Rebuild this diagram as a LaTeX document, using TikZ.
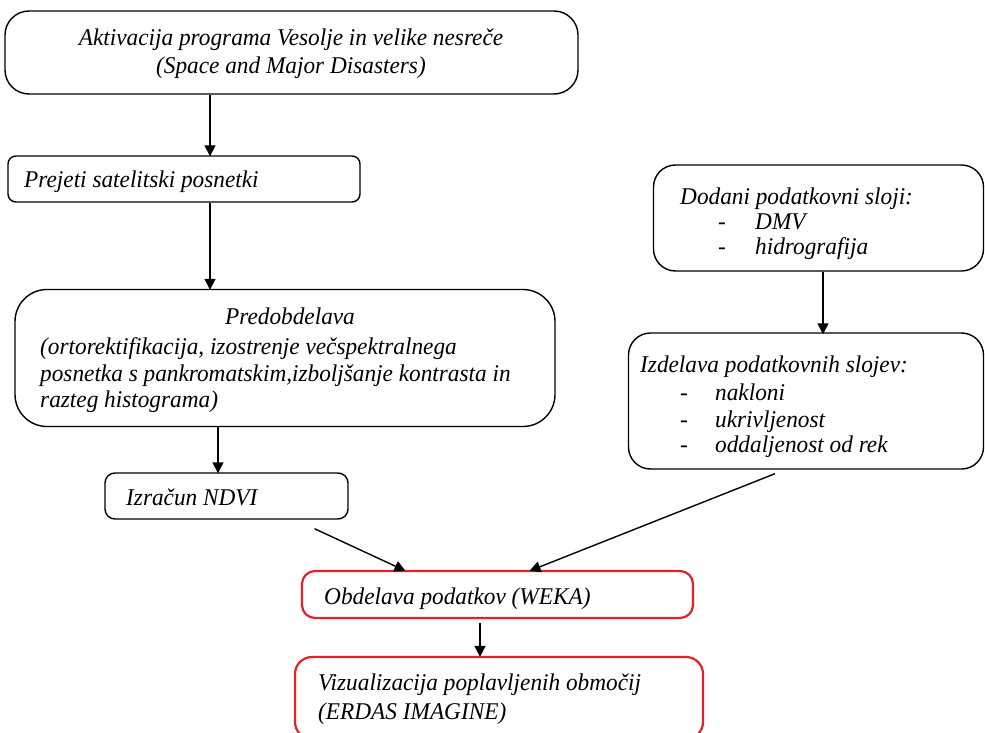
\documentclass[tikz,border=0pt]{standalone}
\usepackage{fontspec}
\setmainfont{Liberation Serif}[FakeStretch=0.97]
\usetikzlibrary{arrows.meta,calc}
\definecolor{boxred}{RGB}{228,32,40}
\tikzset{
  box/.style={draw=black, line width=1.4pt, inner sep=0pt},
  redbox/.style={draw=boxred, line width=2.2pt, inner sep=0pt},
  txt/.style={inner sep=0pt, font=\fontsize{24}{28}\selectfont\itshape},
  arr/.style={line width=1.4pt, -{Triangle[length=11pt,width=11pt]}},
}
\begin{document}
\begin{tikzpicture}[x=1pt,y=-1pt]
\useasboundingbox (0,0) rectangle (985,733);
\clip (0,0) rectangle (985,733);
% boxes
\node[box, rounded corners=24pt, minimum width=573pt, minimum height=83pt] (top) at (291.5,52.5) {};
\node[box, rounded corners=8pt, minimum width=352pt, minimum height=46pt] (sat) at (184,179) {};
\node[box, rounded corners=32pt, minimum width=540pt, minimum height=137pt] (pre) at (285,358) {};
\node[box, rounded corners=10pt, minimum width=243pt, minimum height=46pt] (ndvi) at (226.5,496) {};
\node[box, rounded corners=22pt, minimum width=330pt, minimum height=106pt] (dod) at (818.5,218) {};
\node[box, rounded corners=22pt, minimum width=355pt, minimum height=136pt] (izd) at (806,401) {};
\node[redbox, rounded corners=13pt, minimum width=391pt, minimum height=47pt] (obd) at (497.5,594.5) {};
\node[redbox, rounded corners=17pt, minimum width=408pt, minimum height=82pt] (viz) at (499,698) {};
% texts
\node[txt, anchor=base] (t1) at (291,46) {Aktivacija programa Vesolje in velike nesreče};
\node[txt, anchor=base] (t2) at (291,74) {(Space and Major Disasters)};
\node[txt, anchor=base west] (t3) at (24,187) {Prejeti satelitski posnetki};
\node[txt, anchor=base] (t4) at (290,324) {Predobdelava};
\node[txt, anchor=base west] (t5) at (40,354) {(ortorektifikacija, izostrenje večspektralnega};
\node[txt, anchor=base west] (t6) at (40,381) {posnetka s pankromatskim,izboljšanje kontrasta in};
\node[txt, anchor=base west] (t7) at (40,407) {razteg histograma)};
\node[txt, anchor=base west] (t8) at (126,505) {Izračun NDVI};
\node[txt, anchor=base west] (t9) at (680,204) {Dodani podatkovni sloji:};
\node[txt, anchor=base west] (t10) at (718,229) {-};
\node[txt, anchor=base west] (t11) at (755,229) {DMV};
\node[txt, anchor=base west] (t12) at (718,254) {-};
\node[txt, anchor=base west] (t13) at (755,254) {hidrografija};
\node[txt, anchor=base west] (t14) at (640,372) {Izdelava podatkovnih slojev:};
\node[txt, anchor=base west] (t15) at (680,400) {-};
\node[txt, anchor=base west] (t16) at (715,400) {nakloni};
\node[txt, anchor=base west] (t17) at (680,427) {-};
\node[txt, anchor=base west] (t18) at (715,427) {ukrivljenost};
\node[txt, anchor=base west] (t19) at (680,452) {-};
\node[txt, anchor=base west] (t20) at (715,452) {oddaljenost od rek};
\node[txt, anchor=base west] (t21) at (324,604) {Obdelava podatkov (WEKA)};
\node[txt, anchor=base west] (t22) at (318,690) {Vizualizacija poplavljenih območij};
\node[txt, anchor=base west] (t23) at (318,719) {(ERDAS IMAGINE)};
% connectors
\coordinate (xa) at (210,0);
\coordinate (xb) at (218,0);
\coordinate (xc) at (823,0);
\coordinate (xd) at (480,0);
\draw[arr] (top.south -| xa) -- ([yshift=-1pt]sat.north -| xa);
\draw[arr] (sat.south -| xa) -- ([yshift=-1pt]pre.north -| xa);
\draw[arr] (pre.south -| xb) -- ([yshift=-1pt]ndvi.north -| xb);
\draw[arr] (dod.south -| xc) -- ([yshift=-2pt]izd.north -| xc);
\draw[arr] ([shift={(88pt,-9pt)}]ndvi.south) -- ([shift={(-92pt,-1pt)}]obd.north);
\draw[arr] ([shift={(-31pt,-4pt)}]izd.south) -- ([shift={(32pt,-1pt)}]obd.north);
\draw[arr] ([yshift=-4pt]obd.south -| xd) -- ([yshift=-1pt]viz.north -| xd);
\end{tikzpicture}
\end{document}
